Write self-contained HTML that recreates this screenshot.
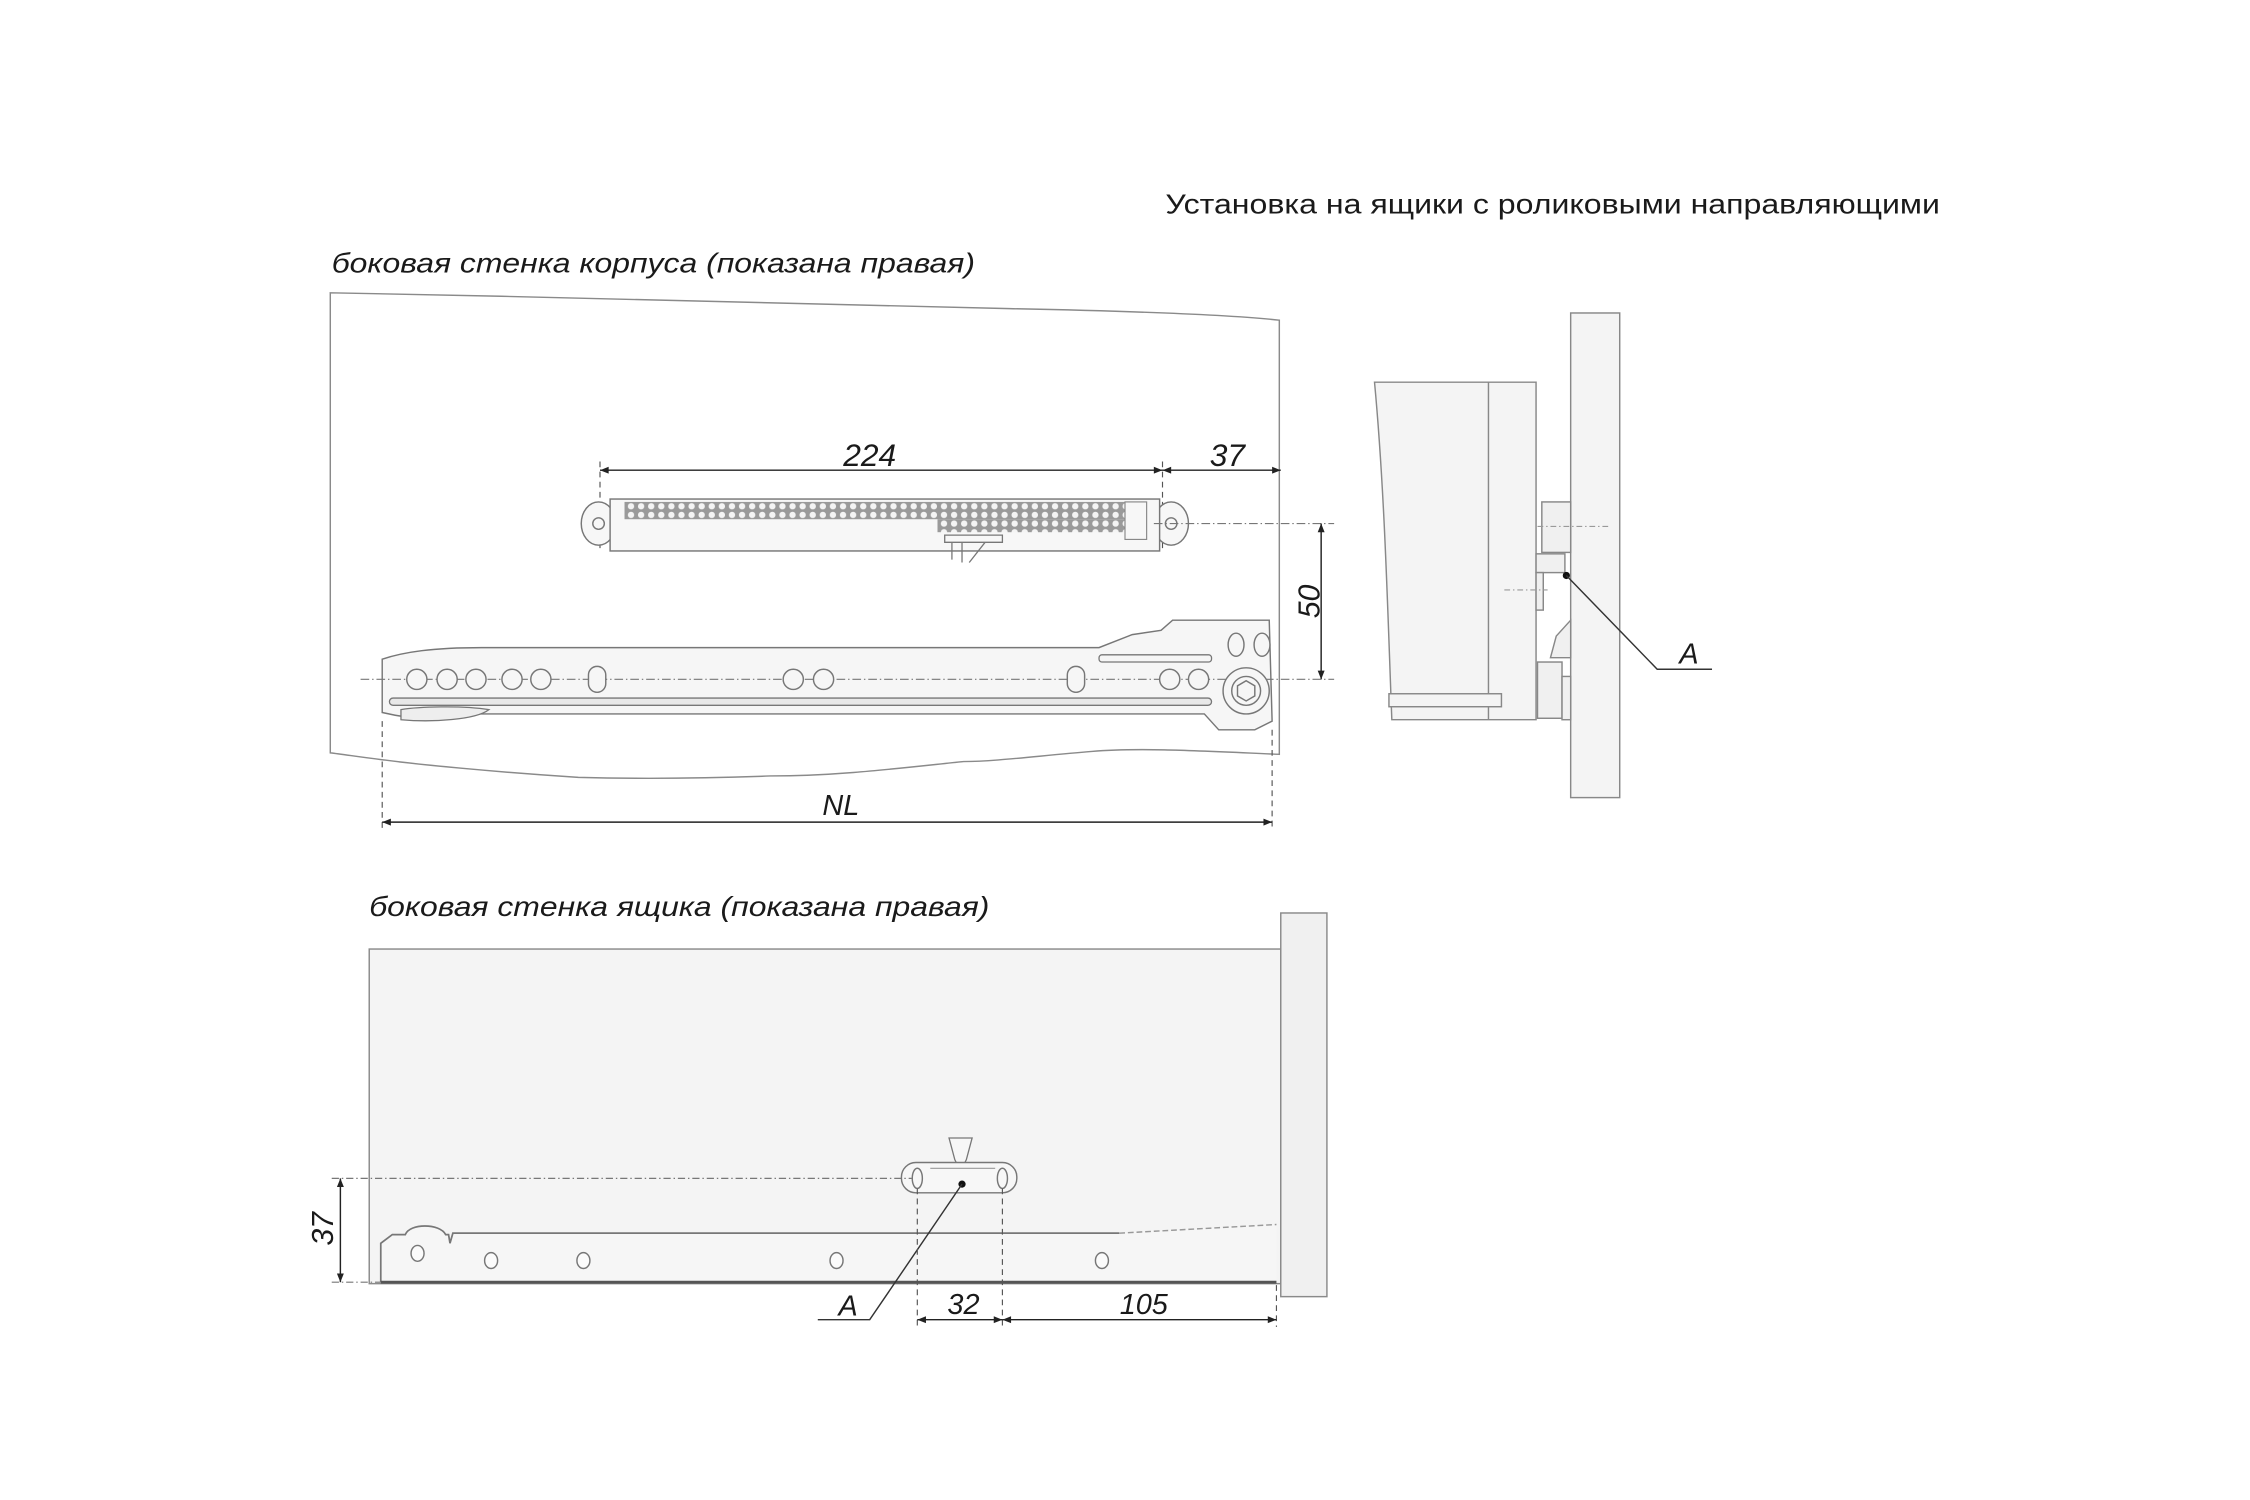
<!DOCTYPE html>
<html><head><meta charset="utf-8"><style>
html,body{margin:0;padding:0;background:#fff;}
svg{display:block}
text{font-family:"Liberation Sans",sans-serif;fill:#1a1a1a}
.it{font-style:italic}
</style></head><body>
<svg width="2250" height="1500" viewBox="0 0 1560 1040" xmlns="http://www.w3.org/2000/svg">
<defs>
<pattern id="perf" x="0" y="0" width="7" height="6" patternUnits="userSpaceOnUse">
<rect width="7" height="6" fill="#9a9a9a"/>
<circle cx="3.5" cy="3" r="2.2" fill="#f4f4f4"/>
</pattern>
<marker id="ar" viewBox="0 0 10 10" refX="10" refY="5" markerWidth="8" markerHeight="6" orient="auto-start-reverse">
<path d="M0,1 L10,5 L0,9 Z" fill="#222"/>
</marker>
</defs>

<text x="808" y="148" font-size="19" textLength="537" lengthAdjust="spacingAndGlyphs">Установка на ящики с роликовыми направляющими</text>
<text x="230" y="189" font-size="19" class="it" textLength="446" lengthAdjust="spacingAndGlyphs">боковая стенка корпуса (показана правая)</text>

<!-- cabinet side panel -->
<path d="M229,203 C400,206 600,212 700,214 C800,216 860,219 887,222 L887,523 C840,521 790,518 757,521 C720,524 690,528 668,528 C620,533 580,538 534,538 C480,540 440,540 401,539 C340,535 290,530 267,527 C250,525 238,523 229,522 Z" fill="#fff" stroke="#8a8a8a" stroke-width="1"/>

<!-- 224 / 37 dims -->
<line x1="416" y1="320" x2="416" y2="382" stroke="#555" stroke-dasharray="4,3" stroke-width="0.8"/>
<line x1="806" y1="320" x2="806" y2="382" stroke="#555" stroke-dasharray="4,3" stroke-width="0.8"/>
<line x1="416" y1="326" x2="806" y2="326" stroke="#222" stroke-width="1" marker-start="url(#ar)" marker-end="url(#ar)"/>
<line x1="806" y1="326" x2="888" y2="326" stroke="#222" stroke-width="1" marker-start="url(#ar)" marker-end="url(#ar)"/>
<text x="603" y="323" font-size="22" class="it" text-anchor="middle">224</text>
<text x="851" y="323" font-size="22" class="it" text-anchor="middle">37</text>

<!-- damper -->
<g stroke="#777" stroke-width="1" fill="#f7f7f7">
<ellipse cx="415" cy="363" rx="12" ry="15"/>
<ellipse cx="812" cy="363" rx="12" ry="15"/>
<rect x="423" y="346" width="381" height="36"/>
</g>
<rect x="433" y="348" width="347" height="12" fill="url(#perf)"/>
<rect x="650" y="360" width="130" height="9" fill="url(#perf)"/>
<rect x="780" y="348" width="15" height="26" fill="none" stroke="#888" stroke-width="0.8"/>
<path d="M655,371 L695,371 L695,376 L655,376 Z M660,376 L660,388 M667,376 L667,390 M683,376 L672,390" fill="none" stroke="#777" stroke-width="0.9"/>
<circle cx="415" cy="363" r="4" fill="none" stroke="#777"/>
<circle cx="812" cy="363" r="4" fill="none" stroke="#777"/>
<line x1="800" y1="363" x2="925" y2="363" stroke="#777" stroke-dasharray="6,2,1,2" stroke-width="0.8"/>
<line x1="916" y1="363" x2="916" y2="471" stroke="#222" stroke-width="1" marker-start="url(#ar)" marker-end="url(#ar)"/>
<text x="0" y="0" font-size="21" class="it" text-anchor="middle" transform="translate(915,417) rotate(-90)">50</text>

<!-- rail -->
<path d="M265,457 C280,452 300,449 334,449 L762,449 L785,440 L805,437 L813,430 L880,430 L882,500 L870,506 L845,506 L835,495 L330,495 C315,500 290,500 265,494 Z" fill="#f6f6f6" stroke="#777" stroke-width="1"/>
<rect x="762" y="454" width="78" height="5" rx="2" fill="none" stroke="#777" stroke-width="0.9"/>
<rect x="270" y="484" width="570" height="5" rx="2.5" fill="#e8e8e8" stroke="#777" stroke-width="0.9"/>
<path d="M278,492 C290,490 320,489 339,492 C330,499 300,501 278,499 Z" fill="#eee" stroke="#777" stroke-width="0.9"/>
<line x1="250" y1="471" x2="925" y2="471" stroke="#777" stroke-dasharray="6,2,1,2" stroke-width="0.8"/>
<g fill="#f6f6f6" stroke="#777" stroke-width="1">
<circle cx="289" cy="471" r="7"/><circle cx="310" cy="471" r="7"/><circle cx="330" cy="471" r="7"/>
<circle cx="355" cy="471" r="7"/><circle cx="375" cy="471" r="7"/>
<circle cx="550" cy="471" r="7"/><circle cx="571" cy="471" r="7"/>
<circle cx="811" cy="471" r="7"/><circle cx="831" cy="471" r="7"/>
<rect x="408" y="462" width="12" height="18" rx="6"/>
<rect x="740" y="462" width="12" height="18" rx="6"/>
<ellipse cx="857" cy="447" rx="5.5" ry="8"/><ellipse cx="875" cy="447" rx="5.5" ry="8"/>
<circle cx="864" cy="479" r="16"/><circle cx="864" cy="479" r="10"/>
<path d="M864,472 L870,475.5 L870,482.5 L864,486 L858,482.5 L858,475.5 Z"/>
</g>

<!-- NL -->
<line x1="265" y1="500" x2="265" y2="576" stroke="#555" stroke-dasharray="4,3" stroke-width="0.8"/>
<line x1="882" y1="506" x2="882" y2="576" stroke="#555" stroke-dasharray="4,3" stroke-width="0.8"/>
<line x1="265" y1="570" x2="882" y2="570" stroke="#222" stroke-width="1" marker-start="url(#ar)" marker-end="url(#ar)"/>
<text x="583" y="565" font-size="20" class="it" text-anchor="middle">NL</text>

<!-- right side view -->
<rect x="1089" y="217" width="34" height="336" fill="#f4f4f4" stroke="#888" stroke-width="1"/>
<path d="M953,265 L1065,265 L1065,499 L965,499 C962,420 960,340 953,265 Z" fill="#f4f4f4" stroke="#888" stroke-width="1"/>
<line x1="1032" y1="265" x2="1032" y2="499" stroke="#888" stroke-width="1"/>
<rect x="963" y="481" width="78" height="9" fill="#f4f4f4" stroke="#888" stroke-width="1"/>
<g fill="#f0f0f0" stroke="#888" stroke-width="1">
<rect x="1069" y="348" width="20" height="35"/>
<rect x="1065" y="384" width="20" height="13"/>
<rect x="1065" y="397" width="5" height="26"/>
<path d="M1079,441 L1089,430 L1089,456 L1075,456 Z"/>
<rect x="1066" y="459" width="17" height="39"/>
<rect x="1083" y="469" width="6" height="30"/>
</g>
<line x1="1066" y1="365" x2="1115" y2="365" stroke="#999" stroke-dasharray="4,2,1,2" stroke-width="0.8"/>
<line x1="1043" y1="409" x2="1073" y2="409" stroke="#999" stroke-dasharray="4,2,1,2" stroke-width="0.8"/>
<circle cx="1086" cy="399" r="2.5" fill="#111"/>
<polyline points="1086,399 1149,464 1187,464" fill="none" stroke="#333" stroke-width="1"/>
<text x="1171" y="460" font-size="20" class="it" text-anchor="middle">A</text>

<!-- bottom section -->
<text x="256" y="635" font-size="19" class="it" textLength="430" lengthAdjust="spacingAndGlyphs">боковая стенка ящика (показана правая)</text>
<rect x="256" y="658" width="632" height="232" fill="#f4f4f4" stroke="#8a8a8a" stroke-width="1"/>
<rect x="888" y="633" width="32" height="266" fill="#f0f0f0" stroke="#8a8a8a" stroke-width="1"/>
<!-- bracket -->
<path d="M658,789 L674,789 L670,804 L668,808 L664,808 L662,804 Z" fill="#f7f7f7" stroke="#777" stroke-width="0.9"/>
<rect x="625" y="806" width="80" height="21" rx="10" fill="#f7f7f7" stroke="#777" stroke-width="1"/>
<ellipse cx="636" cy="817" rx="3.5" ry="7" fill="none" stroke="#777"/>
<ellipse cx="695" cy="817" rx="3.5" ry="7" fill="none" stroke="#777"/>
<line x1="645" y1="810" x2="690" y2="810" stroke="#999" stroke-width="0.8"/>
<!-- rail -->
<path d="M264,889 L264,862 L272,856 L281,856 C284,848 305,848 309,856 L311,856 L312,862 L314,855 L776,855 L885,849 L885,889 Z" fill="#f6f6f6" stroke="none"/>
<path d="M264,889 L264,862 L272,856 L281,856 C284,848 305,848 309,856 L311,856 L312,862 L314,855 L776,855" fill="none" stroke="#777" stroke-width="1.2"/>
<line x1="776" y1="855" x2="885" y2="849" stroke="#999" stroke-width="1" stroke-dasharray="4,2"/>
<line x1="264" y1="889" x2="885" y2="889" stroke="#555" stroke-width="2"/>
<g fill="#fbfbfb" stroke="#777" stroke-width="1">
<ellipse cx="289.5" cy="869" rx="4.5" ry="5.5"/>
<ellipse cx="340.5" cy="874" rx="4.5" ry="5.5"/>
<ellipse cx="404.5" cy="874" rx="4.5" ry="5.5"/>
<ellipse cx="580" cy="874" rx="4.5" ry="5.5"/>
<ellipse cx="764" cy="874" rx="4.5" ry="5.5"/>
</g>
<circle cx="667" cy="821" r="2.5" fill="#111"/>
<polyline points="667,821 603,915 567,915" fill="none" stroke="#333" stroke-width="1"/>
<text x="588" y="912" font-size="20" class="it" text-anchor="middle">A</text>
<!-- 37 dim -->
<line x1="230" y1="817" x2="632" y2="817" stroke="#777" stroke-dasharray="5,2,1,2" stroke-width="0.8"/>
<line x1="230" y1="889" x2="264" y2="889" stroke="#777" stroke-dasharray="5,2,1,2" stroke-width="0.8"/>
<line x1="236" y1="817" x2="236" y2="889" stroke="#222" stroke-width="1" marker-start="url(#ar)" marker-end="url(#ar)"/>
<text x="0" y="0" font-size="21" class="it" text-anchor="middle" transform="translate(231,852) rotate(-90)">37</text>
<!-- 32 / 105 -->
<line x1="636" y1="824" x2="636" y2="920" stroke="#555" stroke-dasharray="4,3" stroke-width="0.8"/>
<line x1="695" y1="824" x2="695" y2="920" stroke="#555" stroke-dasharray="4,3" stroke-width="0.8"/>
<line x1="885" y1="891" x2="885" y2="920" stroke="#555" stroke-dasharray="4,3" stroke-width="0.8"/>
<line x1="636" y1="915" x2="695" y2="915" stroke="#222" stroke-width="1" marker-start="url(#ar)" marker-end="url(#ar)"/>
<line x1="695" y1="915" x2="885" y2="915" stroke="#222" stroke-width="1" marker-start="url(#ar)" marker-end="url(#ar)"/>
<text x="668" y="911" font-size="20" class="it" text-anchor="middle">32</text>
<text x="793" y="911" font-size="20" class="it" text-anchor="middle">105</text>
</svg>
</body></html>
